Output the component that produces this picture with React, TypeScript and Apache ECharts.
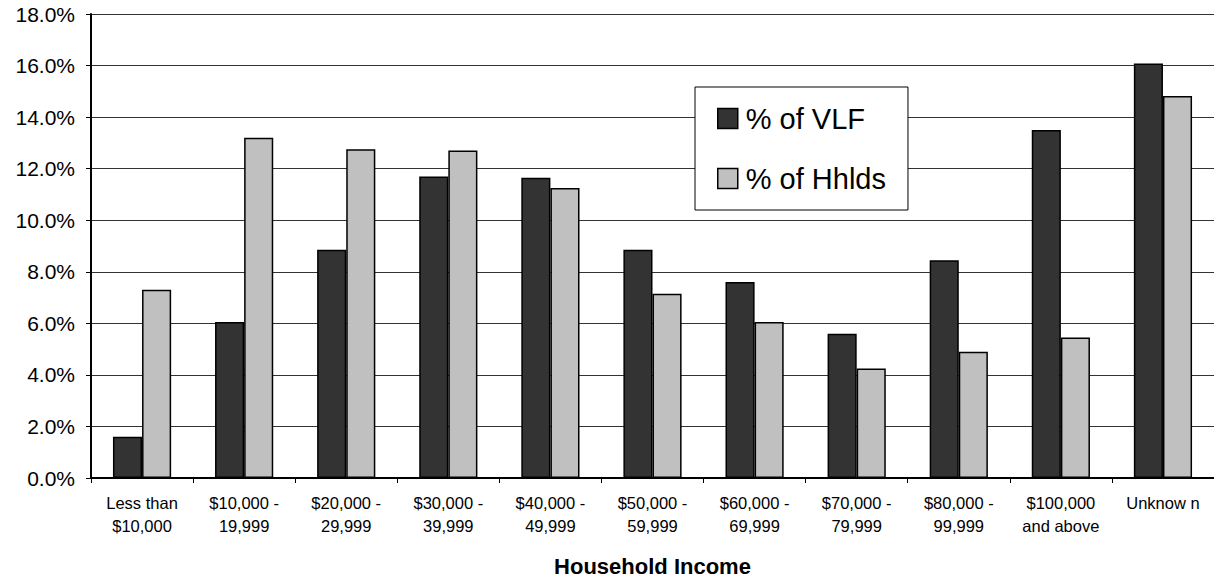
import React, { useEffect, useRef } from "react";
import * as echarts from "echarts";

const categories = [
  "Less than\n$10,000",
  "$10,000 -\n19,999",
  "$20,000 -\n29,999",
  "$30,000 -\n39,999",
  "$40,000 -\n49,999",
  "$50,000 -\n59,999",
  "$60,000 -\n69,999",
  "$70,000 -\n79,999",
  "$80,000 -\n99,999",
  "$100,000\nand above",
  "Unknow n",
];
const vlf = [1.6, 6.05, 8.85, 11.7, 11.65, 8.85, 7.6, 5.6, 8.45, 13.5, 16.08];
const hhlds = [7.3, 13.2, 12.75, 12.7, 11.25, 7.15, 6.05, 4.25, 4.9, 5.45, 14.82];
const yTicks = { min: 0, max: 18, interval: 2 };

export default function App() {
  const ref = useRef<HTMLDivElement>(null);
  useEffect(() => {
    document.body.style.margin = "0";
    const chart = echarts.init(ref.current!, null, { renderer: "svg" });
    const font = "Arial, 'Liberation Sans', sans-serif";
    chart.setOption({
      animation: false,
      backgroundColor: "#fff",
      textStyle: { fontFamily: font, color: "#000" },
      grid: { left: 91, right: 0, top: 14, bottom: 104, containLabel: false },
      legend: {
        orient: "vertical",
        left: 695,
        top: 87,
        itemWidth: 20,
        itemHeight: 20,
        itemGap: 31,
        padding: [17, 22, 17, 22],
        borderColor: "#000",
        borderWidth: 1,
        backgroundColor: "#fff",
        icon: "rect",
        itemStyle: { borderColor: "#000", borderWidth: 1.5 },
        textStyle: { fontSize: 29, fontFamily: font, color: "#000", padding: [0, 0, 0, 3] },
        data: ["% of VLF", "% of Hhlds"],
      },
      xAxis: {
        type: "category",
        data: categories,
        name: "Household Income",
        nameLocation: "middle",
        nameGap: 77,
        nameTextStyle: { fontSize: 22, fontWeight: "bold", color: "#000", fontFamily: font },
        axisLine: { lineStyle: { color: "#000", width: 2 } },
        axisTick: { show: true, length: 5, lineStyle: { color: "#000" } },
        axisLabel: {
          fontSize: 16.5,
          lineHeight: 23,
          color: "#000",
          margin: 13,
          interval: 0,
          fontFamily: font,
        },
      },
      yAxis: {
        type: "value",
        min: yTicks.min,
        max: yTicks.max,
        interval: yTicks.interval,
        axisLine: { show: true, lineStyle: { color: "#000", width: 2 } },
        axisTick: { show: true, length: 5, inside: false, lineStyle: { color: "#000" } },
        axisLabel: {
          fontSize: 21,
          color: "#000",
          margin: 16,
          fontFamily: font,
          formatter: (v: number) => v.toFixed(1) + "%",
        },
        splitLine: { show: true, lineStyle: { color: "#333", width: 1 } },
      },
      series: [
        {
          name: "% of VLF",
          type: "bar",
          data: vlf,
          barGap: "0%",
          barCategoryGap: "43%",
          itemStyle: { color: "#333333", borderColor: "#000", borderWidth: 1.5 },
        },
        {
          name: "% of Hhlds",
          type: "bar",
          data: hhlds,
          barGap: "0%",
          barCategoryGap: "43%",
          itemStyle: { color: "#C0C0C0", borderColor: "#000", borderWidth: 1.5 },
        },
      ],
    });
    return () => chart.dispose();
  }, []);
  return <div ref={ref} style={{ width: 1214, height: 582 }} />;
}
